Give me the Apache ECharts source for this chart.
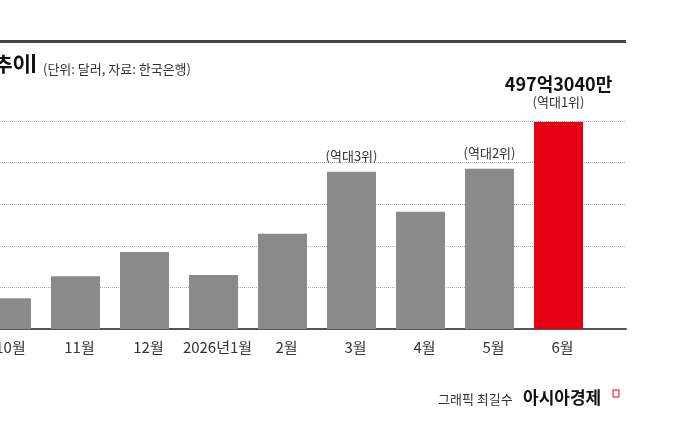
<!DOCTYPE html>
<html>
<head>
<meta charset="utf-8">
<script src="https://cdn.jsdelivr.net/npm/echarts@6/dist/echarts.min.js"></script>
<style>
  html, body { margin: 0; padding: 0; background: #fff; }
  #chart { width: 686px; height: 440px; }
</style>
</head>
<body>
<div id="chart"></div>
<script>
// 월별 값 (단위: 억 달러)
const months = ['10월', '11월', '12월', '2026년1월', '2월', '3월', '4월', '5월', '6월'];
const values = [74, 127, 185, 130, 229, 378, 282, 385, 497.3];
const rankLabels = ['', '', '', '', '', '(역대3위)', '', '(역대2위)', '(역대1위)'];
const peakLabel = '497억3040만';
const yTicks = [0, 100, 200, 300, 400, 500];

const FONT = '"Noto Sans CJK KR", "Noto Sans", sans-serif';
const GRAY = '#8a8a8a';
const RED = '#e60012';

const lastIndex = values.length - 1;

const barData = values.map(function (v, i) {
  const item = {
    value: [i, v],
    itemStyle: { color: i === lastIndex ? RED : GRAY }
  };
  if (rankLabels[i]) {
    item.label = {
      show: true,
      position: 'top',
      distance: i === lastIndex ? 12 : 8,
      formatter: i === lastIndex
        ? '{v|' + peakLabel + '}\n{r|' + rankLabels[i] + '}'
        : '{r|' + rankLabels[i] + '}',
      rich: {
        v: { fontFamily: FONT, fontSize: 18, fontWeight: 'bold', color: '#111', lineHeight: 20 },
        r: { fontFamily: FONT, fontSize: 13, color: '#333', lineHeight: 16 }
      }
    };
  }
  return item;
});

const chart = echarts.init(document.getElementById('chart'));
chart.setOption({
  backgroundColor: '#fff',
  animation: false,
  grid: { left: 0, right: 60, top: 121, bottom: 111, containLabel: false, outerBoundsMode: 'none' },
  xAxis: {
    type: 'value',
    min: -0.094,
    max: 8.978,
    axisLine: { show: true, lineStyle: { color: '#555', width: 2 } },
    axisTick: { show: false },
    splitLine: { show: false },
    axisLabel: {
      customValues: months.map(function (m, i) { return i; }),
      formatter: function (v) { return months[Math.round(v)] || ''; },
      fontFamily: FONT,
      fontSize: 15,
      color: '#333',
      margin: 11,
      padding: [0, 0, 0, 8],
      hideOverlap: false
    }
  },
  yAxis: {
    type: 'value',
    min: yTicks[0],
    max: yTicks[yTicks.length - 1],
    interval: 100,
    axisLine: { show: false },
    axisTick: { show: false },
    axisLabel: { show: false },
    splitLine: { show: true, lineStyle: { color: '#aaa', type: 'dotted', width: 1 } }
  },
  series: [{
    type: 'bar',
    barWidth: 49,
    data: barData,
    label: { show: false }
  }],
  graphic: [
    // 상단 굵은 선
    { type: 'rect', shape: { x: 0, y: 40, width: 626, height: 3 }, style: { fill: '#444' } },
    // 제목
    { type: 'text', x: 31, y: 64, style: { text: '추이', font: 'bold 20px ' + FONT, fill: '#111', align: 'right', verticalAlign: 'middle' } },
    { type: 'rect', shape: { x: 32, y: 54, width: 3, height: 19 }, style: { fill: '#111' } },
    { type: 'text', x: 43, y: 69, style: { text: '(단위: 달러, 자료: 한국은행)', font: '13px ' + FONT, fill: '#333', verticalAlign: 'middle' } },
    // 하단 출처
    { type: 'text', x: 438, y: 399, style: { text: '그래픽 최길수', font: '13px ' + FONT, fill: '#333', verticalAlign: 'middle' } },
    { type: 'text', x: 523, y: 398, style: { text: '아시아경제', font: 'bold 17px ' + FONT, fill: '#111', verticalAlign: 'middle' } },
    { type: 'rect', shape: { x: 613, y: 390, width: 6, height: 7 }, style: { fill: 'none', stroke: RED, lineWidth: 1 } }
  ]
});
</script>
</body>
</html>
